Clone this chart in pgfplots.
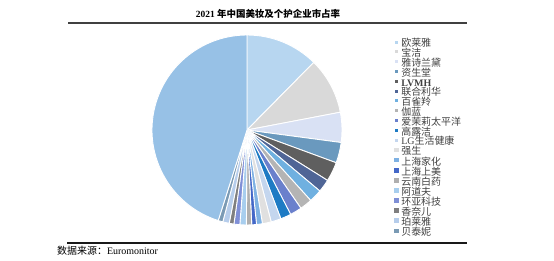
\documentclass[border=0pt]{standalone}
\usepackage{pgfplots}
\pgfplotsset{compat=1.18}
\usepackage{pgfplotstable}
\usepackage{fontspec}
\setmainfont{Liberation Serif}
\newfontfamily\cjk{Noto Sans CJK SC}
\newcommand\zh[1]{{\cjk #1}}

\definecolor{c0}{HTML}{B7D6F0}
\definecolor{c1}{HTML}{D9D9D9}
\definecolor{c2}{HTML}{D9E1F4}
\definecolor{c3}{HTML}{6A99BE}
\definecolor{c4}{HTML}{5F5F5F}
\definecolor{c5}{HTML}{4F6596}
\definecolor{c6}{HTML}{6FB0E0}
\definecolor{c7}{HTML}{B4B4B4}
\definecolor{c8}{HTML}{6A80CC}
\definecolor{c9}{HTML}{1E7BC4}
\definecolor{c10}{HTML}{C4D6EE}
\definecolor{c11}{HTML}{E0E0E0}
\definecolor{c12}{HTML}{7EB1E3}
\definecolor{c13}{HTML}{4468C8}
\definecolor{c14}{HTML}{AFAFAF}
\definecolor{c15}{HTML}{A8CEEE}
\definecolor{c16}{HTML}{7F8FD6}
\definecolor{c17}{HTML}{7F7F7F}
\definecolor{c18}{HTML}{B6CDEB}
\definecolor{c19}{HTML}{7A9AB4}
\definecolor{c20}{HTML}{97C1E6}

% market share (%) 2021
\pgfplotstableread[col sep=comma]{
id,value
0,12.4
1,9.6
2,5.1
3,3.5
4,3.3
5,2.2
6,2.2
7,2.1
8,2.0
9,1.8
10,1.7
11,1.5
12,1.0
13,0.8
14,0.9
15,1.1
16,1.0
17,0.8
18,1.1
19,0.8
20,45.1
}\sharetable

\pgfplotsset{
  smallsq/.style={draw=none, legend image code/.code={\path[draw=none, fill] (0.5bp,1.3bp) rectangle (3.5bp,4.3bp);}},
  bigsq/.style={draw=none, legend image code/.code={\path[draw=none, fill] (0bp,0.6bp) rectangle (4.6bp,5.2bp);}},
}

\begin{document}
\begin{tikzpicture}
\path (0,0) rectangle (554bp,-261bp);
% cumulative angles from the data
\gdef\cum{0}
\foreach \i in {0,...,20}{
  \pgfplotstablegetelem{\i}{value}\of\sharetable
  \pgfmathsetmacro\sa{\cum*3.6}
  \pgfmathsetmacro\cn{\cum+\pgfplotsretval}
  \pgfmathsetmacro\ea{\cn*3.6}
  \expandafter\xdef\csname aS\i\endcsname{\sa}
  \expandafter\xdef\csname aE\i\endcsname{\ea}
  \xdef\cum{\cn}
}
% title and rules
\node[font=\bfseries\fontsize{9.5}{10}\selectfont] at (268bp,-14bp) {2021 \zh{年中国美妆及个护企业市占率}};
\draw[line width=2bp, color=black!75] (68bp,-23bp) -- (467bp,-23bp);
\draw[line width=1.2bp, color=black!90] (67bp,-243bp) -- (467bp,-243bp);
\node[anchor=west, font=\fontsize{10}{10}\selectfont, inner sep=0pt] at (57bp,-251bp) {\zh{数据来源：}Euromonitor};

\begin{axis}[
  at={(247bp,-130bp)}, anchor=center,
  x=95bp, y=95bp,
  xmin=-1, xmax=1, ymin=-1, ymax=1,
  hide axis, clip=false,
  legend cell align=left,
  legend style={at={(1.2737,0.975)}, anchor=north west, draw=none, fill=none,
    inner sep=0pt, row sep=0pt,
    font=\fontsize{10}{10}\selectfont, text=black!75,
    nodes={inner sep=0pt, text height=6.9bp, text depth=2.9bp},
    /tikz/every odd column/.append style={column sep=2.5bp}},
]
\pgfplotsinvokeforeach{0,...,20}{
  \filldraw[fill=c#1, draw=white, line width=0.9bp, line join=round]
    (axis cs:0,0) -- (axis cs:{sin(\csname aS#1\endcsname)},{cos(\csname aS#1\endcsname)})
    arc[start angle={90-\csname aS#1\endcsname}, end angle={90-\csname aE#1\endcsname}, radius=95bp] -- cycle;
}
\addlegendimage{smallsq, fill=c0}\addlegendentry{\zh{欧莱雅}}
\addlegendimage{smallsq, fill=c1}\addlegendentry{\zh{宝洁}}
\addlegendimage{smallsq, fill=c2}\addlegendentry{\zh{雅诗兰黛}}
\addlegendimage{smallsq, fill=c3}\addlegendentry{\zh{资生堂}}
\addlegendimage{smallsq, fill=c4}\addlegendentry{\textbf{LVMH}}
\addlegendimage{smallsq, fill=c5}\addlegendentry{\zh{联合利华}}
\addlegendimage{smallsq, fill=c6}\addlegendentry{\zh{百雀羚}}
\addlegendimage{smallsq, fill=c7}\addlegendentry{\zh{伽蓝}}
\addlegendimage{smallsq, fill=c8}\addlegendentry{\zh{爱茉莉太平洋}}
\addlegendimage{smallsq, fill=c9}\addlegendentry{\zh{高露洁}}
\addlegendimage{smallsq, fill=c10}\addlegendentry{LG\zh{生活健康}}
\addlegendimage{bigsq, fill=c11}\addlegendentry{\zh{强生}}
\addlegendimage{bigsq, fill=c12}\addlegendentry{\zh{上海家化}}
\addlegendimage{bigsq, fill=c13}\addlegendentry{\zh{上海上美}}
\addlegendimage{bigsq, fill=c14}\addlegendentry{\zh{云南白药}}
\addlegendimage{bigsq, fill=c15}\addlegendentry{\zh{阿道夫}}
\addlegendimage{bigsq, fill=c16}\addlegendentry{\zh{环亚科技}}
\addlegendimage{bigsq, fill=c17}\addlegendentry{\zh{香奈儿}}
\addlegendimage{bigsq, fill=c18}\addlegendentry{\zh{珀莱雅}}
\addlegendimage{bigsq, fill=c19}\addlegendentry{\zh{贝泰妮}}
\end{axis}
\end{tikzpicture}
\end{document}
